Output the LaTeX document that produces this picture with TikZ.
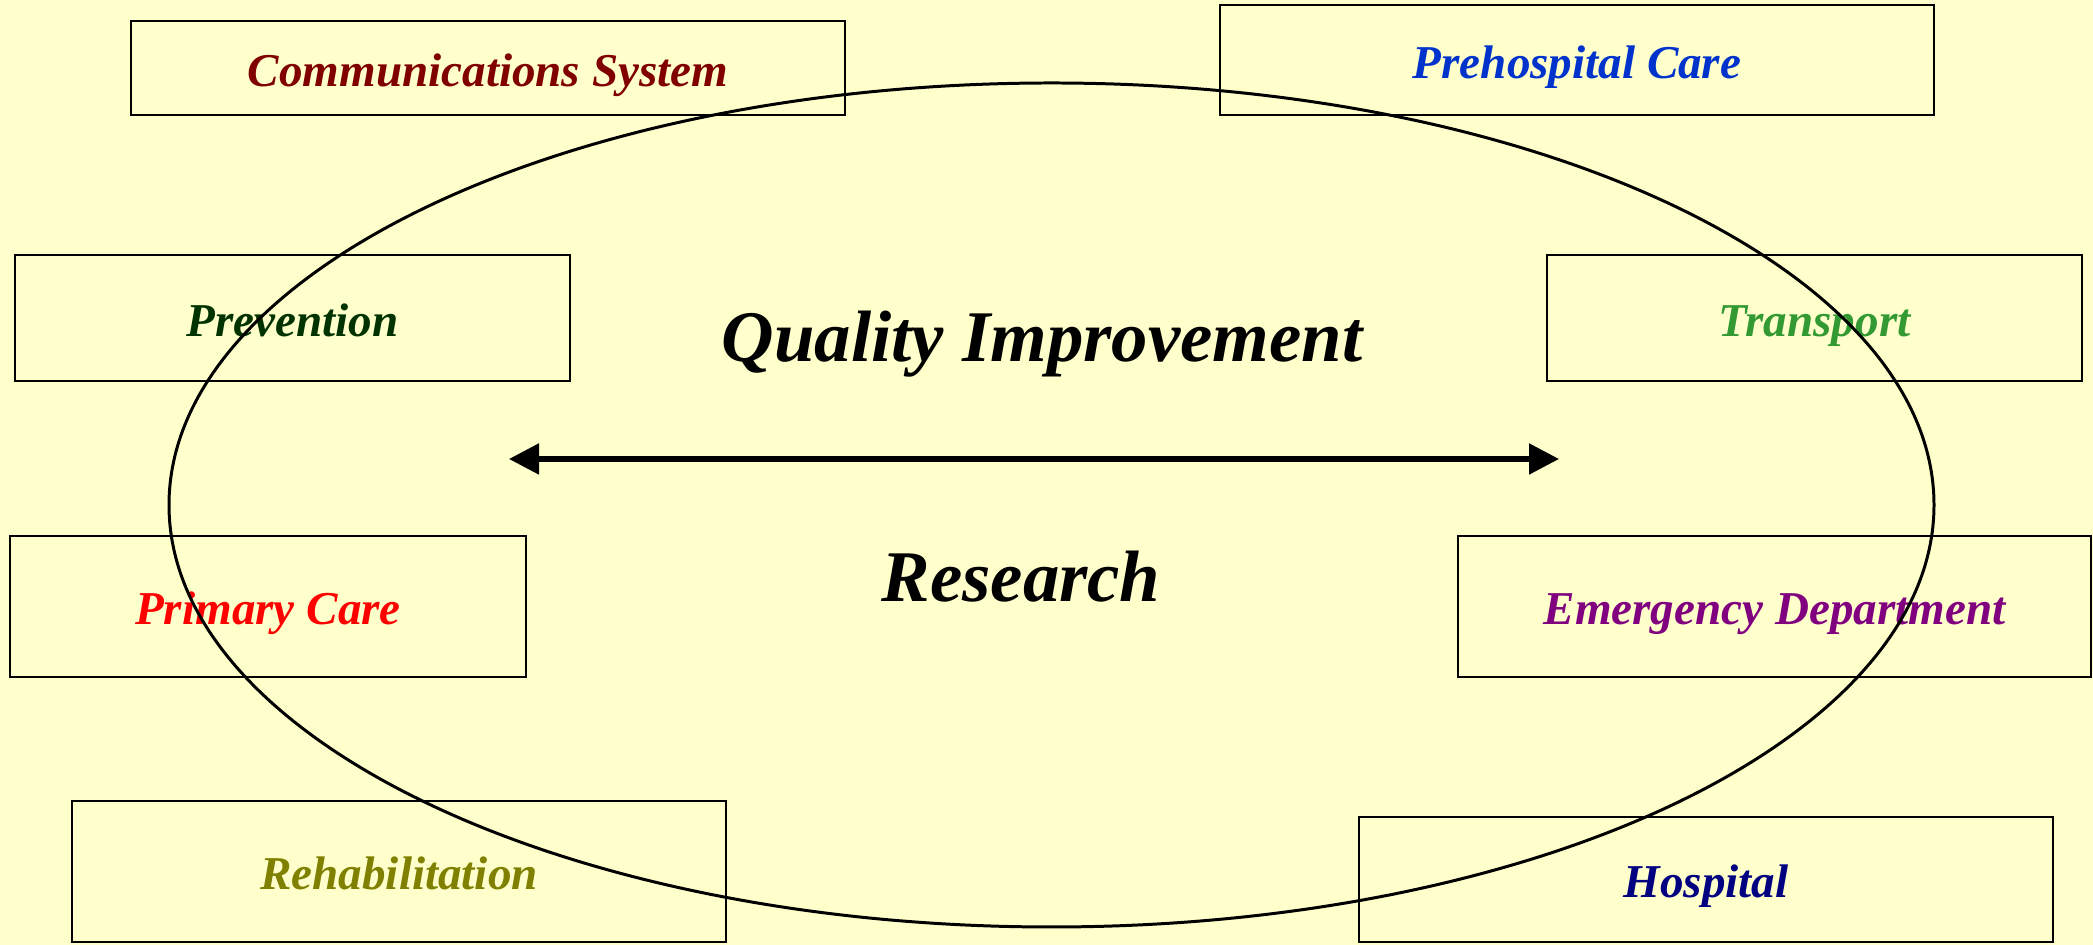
\documentclass[tikz,border=0pt]{standalone}
\usepackage{fontspec}
\setmainfont{Liberation Serif}
\usepackage{tikz}
\usetikzlibrary{arrows.meta}

\definecolor{paper}{HTML}{FFFFCC}
\definecolor{commred}{HTML}{800000}
\definecolor{prehblue}{HTML}{0033CC}
\definecolor{prevgreen}{HTML}{003300}
\definecolor{transgreen}{HTML}{339933}
\definecolor{primred}{HTML}{FF0000}
\definecolor{emergpurple}{HTML}{800080}
\definecolor{rehabolive}{HTML}{808000}
\definecolor{hospnavy}{HTML}{000080}

\tikzset{
  sector/.style={draw=black, line width=0.6pt, inner sep=0pt, text height=0.37cm, text depth=0pt,
                 font=\fontsize{13.4}{16}\selectfont\bfseries\itshape},
  bigword/.style={anchor=base, font=\fontsize{20.7}{24}\selectfont\bfseries\itshape}
}

\begin{document}
\begin{tikzpicture}
                        \fill[paper] (0, 0) rectangle (20.93, 9.45);
                        \useasboundingbox (0, 0) rectangle (20.93, 9.45);

                        \node[sector, minimum width=7.14cm, minimum height=0.94cm, text=commred] (comm) at (4.88, 8.77){Communications System};
                        \node[sector, minimum width=7.14cm, minimum height=1.10cm, text=prehblue] (prehosp) at (15.77, 8.85){Prehospital Care};
                        \node[sector, minimum width=5.55cm, minimum height=1.26cm, text=prevgreen] (prev) at (2.925, 6.27){Prevention};
                        \node[sector, minimum width=5.35cm, minimum height=1.26cm, text=transgreen] (transp) at (18.145, 6.27){Transport};
                        \node[sector, minimum width=5.16cm, minimum height=1.41cm, text=primred] (primary) at (2.68, 3.385){Primary Care};
                        \node[sector, minimum width=6.33cm, minimum height=1.41cm, text=emergpurple] (emerg) at (17.745, 3.385){Emergency Department};
                        \node[sector, minimum width=6.54cm, minimum height=1.41cm, text=rehabolive] (rehab) at (3.99, 0.735){Rehabilitation};
                        \node[sector, minimum width=6.94cm, minimum height=1.25cm, text=hospnavy] (hosp) at (17.06, 0.655){Hospital};

                        \draw[line width=0.85pt] (10.515, 4.40) ellipse (8.825 and 4.22);

                        \node[bigword] (quality) at (10.42, 5.83){Quality Improvement};
                        \node[bigword] (research) at (10.21, 3.43){Research};

                        \coordinate (leftend) at (5.09, 4.86);
                        \coordinate (rightend) at (15.59, 4.86);
                        \draw[{Triangle[length=0.3cm, width=0.3cm]}-{Triangle[length=0.3cm, width=0.3cm]}, line width=1.5pt] (leftend) -- (rightend);
                \end{tikzpicture}
\end{document}
